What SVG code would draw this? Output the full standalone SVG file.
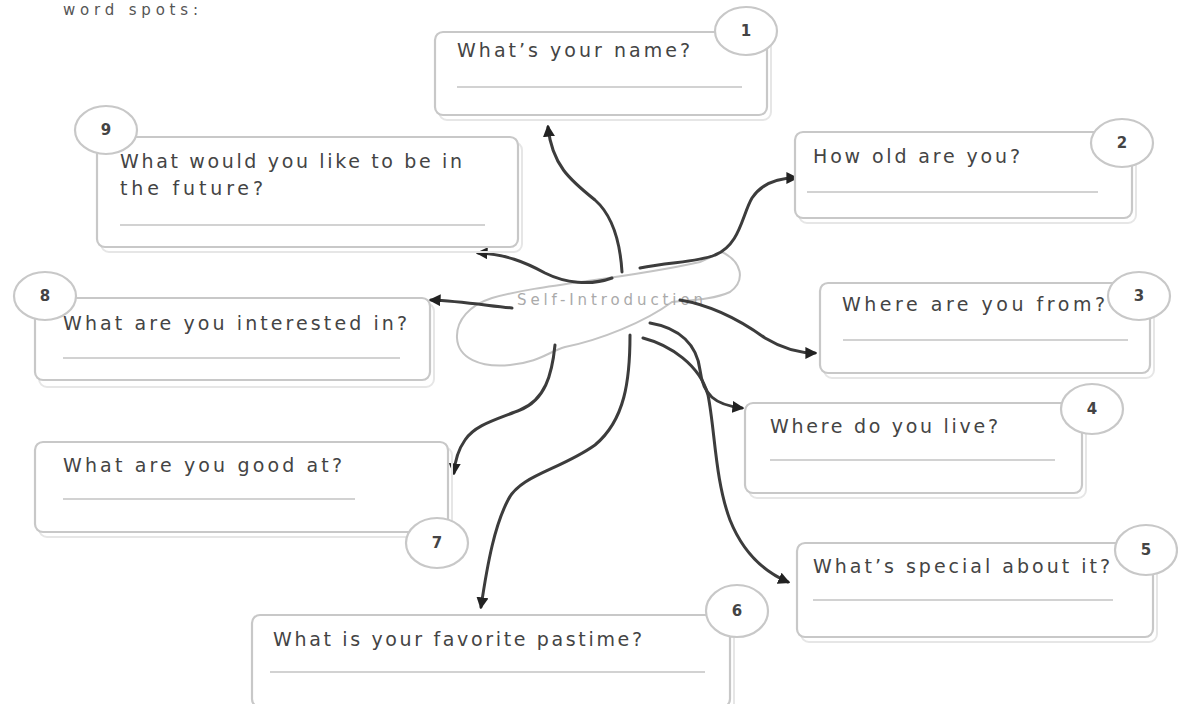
<svg xmlns="http://www.w3.org/2000/svg" width="1178" height="704" viewBox="0 0 1178 704">
<style>
.box{fill:#fff;stroke:#c8c8c8;stroke-width:2.2}
.shadow{fill:none;stroke:#e6e6e6;stroke-width:2}
.ul{stroke:#d2d2d2;stroke-width:2}
.q{font-family:"DejaVu Sans","Liberation Sans",Arial,sans-serif;font-size:19px;fill:#444}
.num{fill:#fff;stroke:#c8c8c8;stroke-width:2.2}
.nt{font-family:"DejaVu Sans","Liberation Sans",Arial,sans-serif;font-size:15px;font-weight:bold;fill:#444;text-anchor:middle}
.con{fill:none;stroke:#3c3c3c;stroke-width:3;stroke-linecap:round;marker-end:url(#ah)}
</style>
<defs>
<marker id="ah" viewBox="0 0 10 10" refX="8" refY="5" markerWidth="4" markerHeight="4" orient="auto" markerUnits="strokeWidth">
<path d="M0,0 L10,5 L0,10 z" fill="#222"/>
</marker>
</defs>
<rect width="1178" height="704" fill="#fff"/>
<text x="63" y="15" style="font-family:'DejaVu Sans','Liberation Sans',Arial,sans-serif;font-size:15px;fill:#555" textLength="135" lengthAdjust="spacing">word spots:</text>

<g id="center">
<path d="M492,298 C540,284 620,280 700,262 L722,252 C742,262 746,280 730,292 C712,300 690,300 672,302 C645,322 600,340 565,347 C548,352 540,362 510,365 C480,368 458,358 457,338 C456,320 470,305 492,298 Z" fill="#fff" stroke="#c4c4c4" stroke-width="2"/>
<text x="610" y="305" text-anchor="middle" style="font-family:'DejaVu Sans','Liberation Sans',Arial,sans-serif;font-size:15px;fill:#aaa" textLength="186" lengthAdjust="spacing">Self-Introduction</text>
</g>

<g id="connectors">
<path class="con" d="M622,272 C620,240 612,215 595,200 C570,180 552,165 548,127"/>
<path class="con" d="M640,268 C670,262 700,262 715,255 C740,245 742,215 752,198 C762,183 778,178 796,178"/>
<path class="con" d="M680,300 C710,305 740,320 765,338 C785,350 800,353 815,353"/>
<path class="con" d="M650,323 C680,328 697,345 700,370 C703,395 715,405 742,408"/>
<path class="con" d="M643,338 C670,345 700,365 708,395 C715,430 715,480 730,520 C742,550 760,570 788,582"/>
<path class="con" d="M630,335 C630,380 625,420 595,445 C560,470 520,475 508,500 C495,525 488,560 481,607"/>
<path class="con" d="M555,345 C552,375 545,400 520,410 C495,420 475,425 465,440 C458,450 455,460 454,473"/>
<path class="con" d="M512,308 C490,306 460,301 431,300"/>
<path class="con" d="M612,278 C590,286 565,283 545,273 C525,262 505,254 478,253"/>
</g>

<g id="n1">
<rect class="shadow" x="439" y="37" width="332" height="83" rx="8"/>
<rect class="box" x="435" y="32" width="332" height="83" rx="8"/>
<text class="q" x="457" y="57" textLength="233" lengthAdjust="spacing">What’s your name?</text>
<line class="ul" x1="457" y1="87" x2="742" y2="87"/>
<ellipse class="num" cx="746" cy="31" rx="31" ry="24"/>
<text class="nt" x="746" y="36">1</text>
</g>

<g id="n2">
<rect class="shadow" x="799" y="137" width="337" height="86" rx="8"/>
<rect class="box" x="795" y="132" width="337" height="86" rx="8"/>
<text class="q" x="813" y="163" textLength="207" lengthAdjust="spacing">How old are you?</text>
<line class="ul" x1="807" y1="192" x2="1098" y2="192"/>
<ellipse class="num" cx="1122" cy="143" rx="31" ry="24"/>
<text class="nt" x="1122" y="148">2</text>
</g>

<g id="n3">
<rect class="shadow" x="824" y="288" width="330" height="90" rx="8"/>
<rect class="box" x="820" y="283" width="330" height="90" rx="8"/>
<text class="q" x="842" y="311" textLength="263" lengthAdjust="spacing">Where are you from?</text>
<line class="ul" x1="843" y1="340" x2="1128" y2="340"/>
<ellipse class="num" cx="1139" cy="296" rx="31" ry="24"/>
<text class="nt" x="1139" y="301">3</text>
</g>

<g id="n4">
<rect class="shadow" x="749" y="408" width="337" height="90" rx="8"/>
<rect class="box" x="745" y="403" width="337" height="90" rx="8"/>
<text class="q" x="770" y="433" textLength="228" lengthAdjust="spacing">Where do you live?</text>
<line class="ul" x1="770" y1="460" x2="1055" y2="460"/>
<ellipse class="num" cx="1092" cy="409" rx="31" ry="25"/>
<text class="nt" x="1092" y="414">4</text>
</g>

<g id="n5">
<rect class="shadow" x="801" y="548" width="356" height="94" rx="8"/>
<rect class="box" x="797" y="543" width="356" height="94" rx="8"/>
<text class="q" x="813" y="573" textLength="297" lengthAdjust="spacing">What’s special about it?</text>
<line class="ul" x1="813" y1="600" x2="1113" y2="600"/>
<ellipse class="num" cx="1146" cy="550" rx="31" ry="25"/>
<text class="nt" x="1146" y="555">5</text>
</g>

<g id="n6">
<rect class="shadow" x="256" y="620" width="478" height="92" rx="8"/>
<rect class="box" x="252" y="615" width="478" height="92" rx="8"/>
<text class="q" x="273" y="646" textLength="369" lengthAdjust="spacing">What is your favorite pastime?</text>
<line class="ul" x1="270" y1="672" x2="705" y2="672"/>
<ellipse class="num" cx="737" cy="611" rx="31" ry="26"/>
<text class="nt" x="737" y="616">6</text>
</g>

<g id="n7">
<rect class="shadow" x="39" y="447" width="413" height="90" rx="8"/>
<rect class="box" x="35" y="442" width="413" height="90" rx="8"/>
<text class="q" x="63" y="472" textLength="279" lengthAdjust="spacing">What are you good at?</text>
<line class="ul" x1="63" y1="499" x2="355" y2="499"/>
<ellipse class="num" cx="437" cy="543" rx="31" ry="25"/>
<text class="nt" x="437" y="548">7</text>
</g>

<g id="n8">
<rect class="shadow" x="39" y="303" width="395" height="84" rx="8"/>
<rect class="box" x="35" y="298" width="395" height="82" rx="8"/>
<text class="q" x="63" y="330" textLength="344" lengthAdjust="spacing">What are you interested in?</text>
<line class="ul" x1="63" y1="358" x2="400" y2="358"/>
<ellipse class="num" cx="45" cy="296" rx="31" ry="24"/>
<text class="nt" x="45" y="301">8</text>
</g>

<g id="n9">
<rect class="shadow" x="101" y="142" width="421" height="110" rx="8"/>
<rect class="box" x="97" y="137" width="421" height="110" rx="8"/>
<text class="q" x="120" y="168" textLength="342" lengthAdjust="spacing">What would you like to be in</text>
<text class="q" x="120" y="195" textLength="143" lengthAdjust="spacing">the future?</text>
<line class="ul" x1="120" y1="225" x2="485" y2="225"/>
<ellipse class="num" cx="106" cy="130" rx="31" ry="24"/>
<text class="nt" x="106" y="135">9</text>
</g>
</svg>
